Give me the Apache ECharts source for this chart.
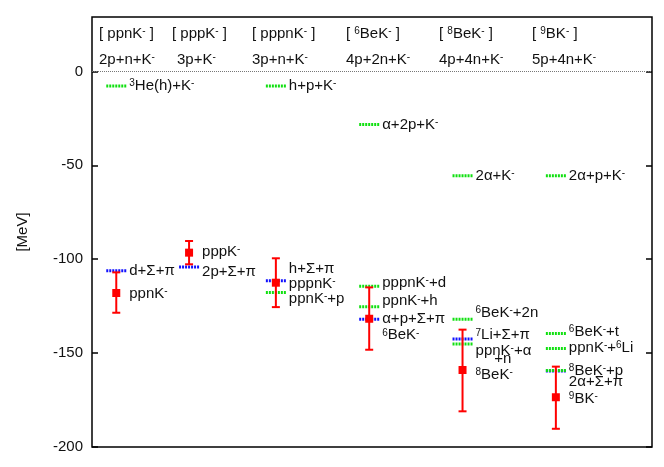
<!DOCTYPE html>
<html>
<head>
<meta charset="UTF-8">
<title>Kaonic nuclei levels</title>
<style>
  html, body { margin: 0; padding: 0; background: #fff; }
  #main { width: 664px; height: 467px; }
</style>
<script src="https://cdn.jsdelivr.net/npm/echarts@6/dist/echarts.min.js"></script>
</head>
<body>
<div id="main"></div>
<script>
// column centres on the x axis (0..6)
var colX = [0.26, 1.04, 1.97, 2.97, 3.97, 4.97];
var yTicks = [-200, -150, -100, -50, 0];

// column headers ("^x" = superscript x)
var headers = ['[ ppnK^- ]', '[ pppK^- ]', '[ pppnK^- ]', '[ ^6BeK^- ]', '[ ^8BeK^- ]', '[ ^9BK^- ]'];
var channels = ['2p+n+K^-', '3p+K^-', '3p+n+K^-', '4p+2n+K^-', '4p+4n+K^-', '5p+4n+K^-'];
var headerX = [0.075, 0.857, 1.714, 2.721, 3.718, 4.714];
var channelX = [0.075, 0.911, 1.714, 2.721, 3.718, 4.714];

// calculated states (MeV) with error bar ends
var stateE = [-118, -96.5, -112.5, -131.7, -159, -173.5];
var stateHigh = [-107, -90.3, -99.5, -115, -137.5, -157.2];
var stateLow = [-128.5, -102.7, -125.5, -148.2, -181, -190.3];

// Sigma-pi thresholds (blue)
var spCol = [0, 1, 2, 3, 4, 5];
var spE = [-106.2, -104.1, -111.5, -131.9, -142.5, -159.5];

// K- thresholds (green)
var kCol = [0, 2, 3, 4, 5, 2, 3, 3, 4, 4, 5, 5, 5];
var kE = [-7.7, -7.7, -28.3, -55.5, -55.5, -117.7, -114.4, -125.3, -131.9, -145.1, -139.5, -147.6, -159.3];

// text labels: column, extra x shift (axis units), energy where the text sits
var labelText = [
  '^3He(h)+K^-', 'd+Σ+π', 'ppnK^-',
  'pppK^-', '2p+Σ+π',
  'h+p+K^-', 'h+Σ+π', 'pppnK^-', 'ppnK^-+p',
  'α+2p+K^-', 'pppnK^-+d', 'ppnK^-+h', 'α+p+Σ+π', '^6BeK^-',
  '2α+K^-', '^6BeK^-+2n', '^7Li+Σ+π', 'ppnK^-+α', '+n', '^8BeK^-',
  '2α+p+K^-', '^6BeK^-+t', 'ppnK^-+^6Li', '^8BeK^-+p', '2α+Σ+π', '^9BK^-'
];
var labelCol = [0, 0, 0, 1, 1, 2, 2, 2, 2, 3, 3, 3, 3, 3, 4, 4, 4, 4, 4, 4, 5, 5, 5, 5, 5, 5];
var labelShift = [0, 0, 0, 0, 0, 0, 0, 0, 0, 0, 0, 0, 0, 0, 0, 0, 0, 0, 0.2, 0, 0, 0, 0, 0, 0, 0];
var labelE = [
  -7.7, -106.2, -118.5,
  -96, -106.5,
  -7.7, -105, -113, -121,
  -28.3, -112.7, -122.4, -131.6, -140.5,
  -55.5, -128.3, -140.5, -148.8, -153.3, -161.4,
  -55.5, -138.5, -147.3, -159.6, -165.4, -174.2
];

var FONT = 'Liberation Sans, Arial, Helvetica, sans-serif';

function toRich(s) {
  return s.replace(/\^(.)/g, '{s|$1}');
}

function textItem(x, y, str) {
  return {
    type: 'text',
    x: x,
    y: y,
    style: {
      text: toRich(str),
      fill: '#111',
      fontSize: 15,
      fontFamily: FONT,
      align: 'left',
      verticalAlign: 'middle',
      rich: {
        s: { fontSize: 10, fontFamily: FONT, fill: '#111', verticalAlign: 'top', lineHeight: 10 }
      }
    }
  };
}

function segmentSeries(cols, energies, color) {
  return {
    type: 'custom',
    coordinateSystem: 'cartesian2d',
    data: cols.map(function (c, i) { return [colX[c], energies[i]]; }),
    renderItem: function (params, api) {
      var p = api.coord([api.value(0), api.value(1)]);
      return {
        type: 'line',
        shape: { x1: p[0] - 10, y1: p[1], x2: p[0] + 10, y2: p[1] },
        style: { stroke: color, lineWidth: 3, lineDash: [2, 1] }
      };
    },
    z: 3
  };
}

var chart = echarts.init(document.getElementById('main'));

var option = {
  animation: false,
  backgroundColor: '#fff',
  grid: { left: 92, right: 12, top: 17, bottom: 20, show: true, borderColor: '#000', borderWidth: 1.5 },
  xAxis: { type: 'value', min: 0, max: 6, show: false },
  yAxis: [
    {
      type: 'value', min: -200, max: 29, position: 'left',
      axisLine: { show: false },
      splitLine: { show: false },
      axisTick: { show: true, inside: true, length: 6, customValues: yTicks, lineStyle: { color: '#000', width: 1.5 } },
      axisLabel: { customValues: yTicks, margin: 9, color: '#111', fontSize: 15, fontFamily: FONT },
      name: '[MeV]', nameLocation: 'middle', nameGap: 62, nameRotate: 90,
      nameTextStyle: { color: '#111', fontSize: 15, fontFamily: FONT }
    },
    {
      type: 'value', min: -200, max: 29, position: 'right',
      axisLine: { show: false },
      splitLine: { show: false },
      axisTick: { show: true, inside: true, length: 6, customValues: yTicks, lineStyle: { color: '#000', width: 1.5 } },
      axisLabel: { show: false }
    }
  ],
  series: [
    // zero line
    {
      type: 'line', data: [], silent: true,
      markLine: {
        silent: true, symbol: 'none', label: { show: false },
        lineStyle: { type: 'dotted', color: '#777', width: 1 },
        data: [{ yAxis: 0 }]
      }
    },
    segmentSeries(spCol, spE, '#1010ff'),
    segmentSeries(kCol, kE, '#10e010'),
    // calculated states with error bars
    {
      type: 'custom',
      coordinateSystem: 'cartesian2d',
      data: stateE.map(function (e, i) { return [colX[i], e, stateHigh[i], stateLow[i]]; }),
      renderItem: function (params, api) {
        var c = api.coord([api.value(0), api.value(1)]);
        var hi = api.coord([api.value(0), api.value(2)]);
        var lo = api.coord([api.value(0), api.value(3)]);
        var st = { stroke: '#ff0000', lineWidth: 2 };
        return {
          type: 'group',
          children: [
            { type: 'line', shape: { x1: c[0], y1: hi[1], x2: c[0], y2: lo[1] }, style: st },
            { type: 'line', shape: { x1: c[0] - 4, y1: hi[1], x2: c[0] + 4, y2: hi[1] }, style: st },
            { type: 'line', shape: { x1: c[0] - 4, y1: lo[1], x2: c[0] + 4, y2: lo[1] }, style: st },
            { type: 'rect', shape: { x: c[0] - 4, y: c[1] - 4, width: 8, height: 8 }, style: { fill: '#ff0000' } }
          ]
        };
      },
      z: 4
    },
    // level labels
    {
      type: 'custom',
      coordinateSystem: 'cartesian2d',
      data: labelText.map(function (t, i) { return [colX[labelCol[i]] + labelShift[i], labelE[i], i]; }),
      renderItem: function (params, api) {
        var p = api.coord([api.value(0), api.value(1)]);
        return textItem(p[0] + 13, p[1], labelText[api.value(2)]);
      },
      z: 5
    },
    // column headers
    {
      type: 'custom',
      coordinateSystem: 'cartesian2d',
      data: headers.map(function (h, i) { return [headerX[i], 20.2, channelX[i], 6.3, i]; }),
      renderItem: function (params, api) {
        var i = api.value(4);
        var a = api.coord([api.value(0), api.value(1)]);
        var b = api.coord([api.value(2), api.value(3)]);
        return {
          type: 'group',
          children: [textItem(a[0], a[1], headers[i]), textItem(b[0], b[1], channels[i])]
        };
      },
      z: 5
    }
  ]
};

chart.setOption(option);
</script>
</body>
</html>
